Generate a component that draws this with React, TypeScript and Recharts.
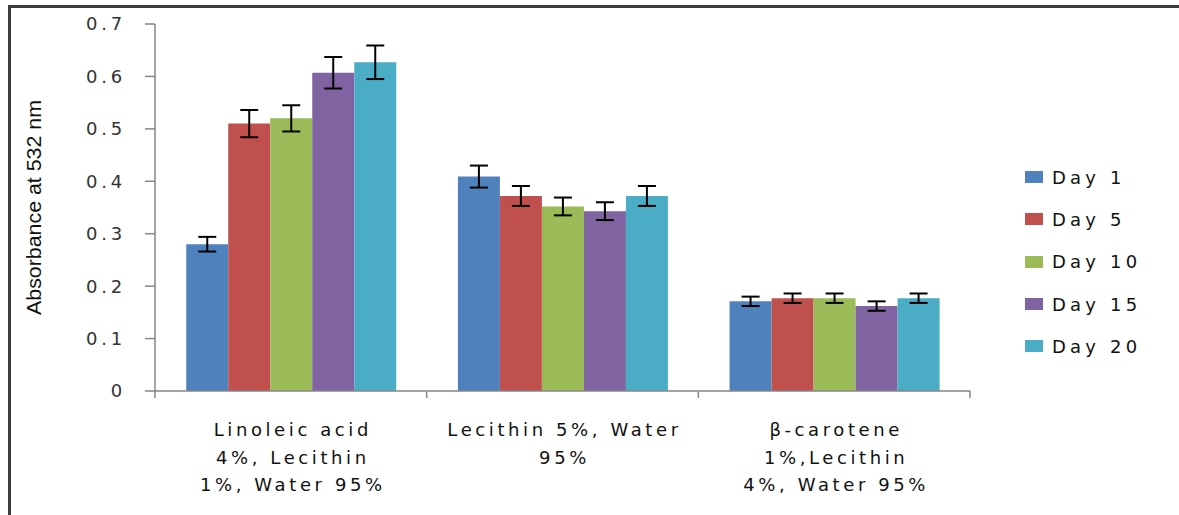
import { BarChart, Bar, XAxis, YAxis, ErrorBar, Legend } from "recharts";

const CATEGORIES = [
  "Linoleic acid 4%, Lecithin 1%, Water 95%",
  "Lecithin 5%, Water 95%",
  "β-carotene 1%,Lecithin 4%, Water 95%",
];
const CATEGORY_LINES = [
  ["Linoleic acid", "4%, Lecithin", "1%, Water 95%"],
  ["Lecithin 5%, Water", "95%"],
  ["β-carotene", "1%,Lecithin", "4%, Water 95%"],
];

const SERIES = ["Day 1", "Day 5", "Day 10", "Day 15", "Day 20"];
const COLORS = ["#4F81BD", "#C0504D", "#9BBB59", "#8064A2", "#4BACC6"];

const DAY_1 = [0.28, 0.409, 0.171];
const DAY_5 = [0.51, 0.372, 0.177];
const DAY_10 = [0.52, 0.352, 0.177];
const DAY_15 = [0.607, 0.343, 0.162];
const DAY_20 = [0.627, 0.372, 0.177];

const ERR_DAY_1 = [0.014, 0.021, 0.009];
const ERR_DAY_5 = [0.026, 0.019, 0.009];
const ERR_DAY_10 = [0.025, 0.017, 0.009];
const ERR_DAY_15 = [0.03, 0.017, 0.009];
const ERR_DAY_20 = [0.032, 0.019, 0.009];

const Y_TICKS = [0, 0.1, 0.2, 0.3, 0.4, 0.5, 0.6, 0.7];

const VALUES = [DAY_1, DAY_5, DAY_10, DAY_15, DAY_20];
const ERRORS = [ERR_DAY_1, ERR_DAY_5, ERR_DAY_10, ERR_DAY_15, ERR_DAY_20];

const data = CATEGORIES.map((name, i) => {
  const row: Record<string, string | number> = { name };
  SERIES.forEach((s, j) => {
    row[s] = VALUES[j][i];
    row[s + " err"] = ERRORS[j][i];
  });
  return row;
});

const FONT = "'DejaVu Sans', Verdana, sans-serif";

function CategoryTick(props: any) {
  const { x, y, payload, index } = props;
  const half = payload.offset || 135.8;
  const lines = CATEGORY_LINES[index] || [String(payload.value)];
  return (
    <g>
      <line x1={x - half} x2={x - half} y1={y} y2={y + 7} stroke="#868686" strokeWidth={1.5} />
      {index === CATEGORIES.length - 1 && (
        <line x1={x + half} x2={x + half} y1={y} y2={y + 7} stroke="#868686" strokeWidth={1.5} />
      )}
      {lines.map((l, k) => (
        <text
          key={k}
          x={x + 2}
          y={y + 45 + k * 27.5}
          textAnchor="middle"
          fontFamily={FONT}
          fontSize={18}
          letterSpacing={3.6}
          fill="#111"
        >
          {l}
        </text>
      ))}
    </g>
  );
}

function LegendBox() {
  return (
    <div style={{ fontFamily: FONT, fontSize: 18, letterSpacing: 4.2, color: "#111" }}>
      {SERIES.map((s, i) => (
        <div key={s} style={{ height: 42.3, display: "flex", alignItems: "center" }}>
          <span
            style={{ width: 18, height: 12, background: COLORS[i], display: "inline-block", marginRight: 9 }}
          />
          <span>{s}</span>
        </div>
      ))}
    </div>
  );
}

function YLabel(props: any) {
  const vb = props.viewBox || { y: 24, height: 367 };
  const cy = vb.y + vb.height / 2;
  return (
    <text
      x={41}
      y={cy}
      transform={`rotate(-90, 41, ${cy})`}
      textAnchor="middle"
      fontFamily="'Liberation Sans Narrow', 'Liberation Sans', sans-serif"
      fontSize={21}
      textLength={215}
      lengthAdjust="spacingAndGlyphs"
      fill="#111"
    >
      Absorbance at 532 nm
    </text>
  );
}

export default function App() {
  return (
    <div style={{ position: "absolute", left: 0, top: 0, width: 1179, height: 515, background: "#fff", overflow: "hidden" }}>
      <div
        style={{
          position: "absolute",
          left: 8,
          top: 5,
          width: 1200,
          height: 520,
          borderTop: "3px solid #3c3c3c",
          borderLeft: "3px solid #3c3c3c",
        }}
      />
      <BarChart
        width={1179}
        height={515}
        data={data}
        margin={{ top: 24, right: 59, left: 75, bottom: 24 }}
        barCategoryGap="11.5%"
        barGap={0}
      >
        <XAxis
          dataKey="name"
          interval={0}
          height={100}
          tickLine={false}
          tickSize={0}
          tickMargin={0}
          stroke="#868686"
          strokeWidth={1.5}
          tick={<CategoryTick />}
        />
        <YAxis
          width={80}
          domain={[0, 0.7]}
          ticks={Y_TICKS}
          interval={0}
          tickSize={10}
          tickMargin={19}
          stroke="#868686"
          strokeWidth={1.5}
          tick={{ fontFamily: FONT, fontSize: 18, letterSpacing: 3.8, fill: "#333" }}
          label={<YLabel />}
        />
        <Legend
          layout="vertical"
          align="right"
          verticalAlign="top"
          width={150}
          wrapperStyle={{ left: 1025, top: 156, right: "auto" }}
          content={<LegendBox />}
        />
        {SERIES.map((s, i) => (
          <Bar key={s} dataKey={s} fill={COLORS[i]} isAnimationActive={false}>
            <ErrorBar dataKey={s + " err"} width={9} stroke="#000" strokeWidth={2} direction="y" />
          </Bar>
        ))}
      </BarChart>
    </div>
  );
}
